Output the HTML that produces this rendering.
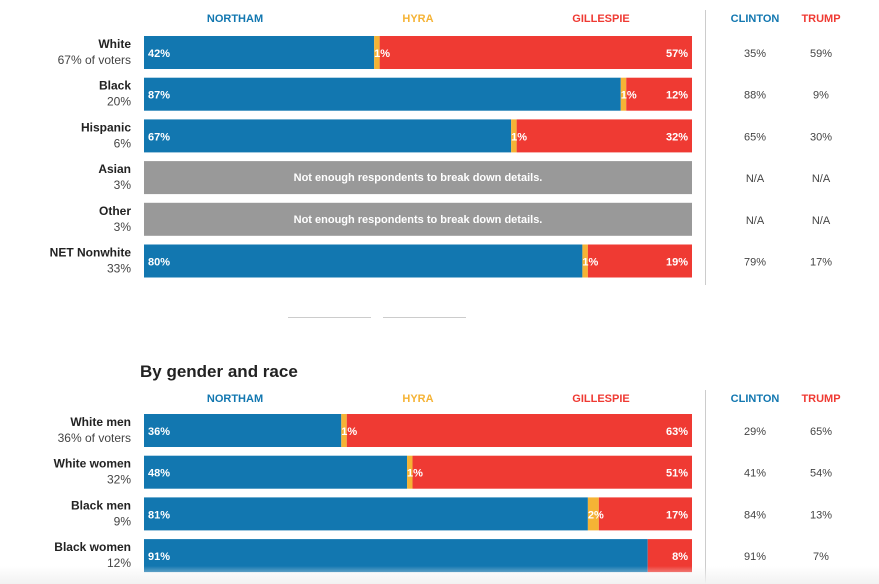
<!DOCTYPE html>
<html><head><meta charset="utf-8">
<style>
body{margin:0;width:879px;height:584px;background:#fff;font-family:"Liberation Sans",sans-serif;overflow:hidden;position:relative}
svg{position:absolute;left:0;top:0}
.fade{position:absolute;left:0;top:566px;width:879px;height:18px;background:linear-gradient(#fff0,#f2f2f2);pointer-events:none}
</style></head><body>
<svg id="chart" width="879" height="584"></svg>
<div class="fade"></div>
<script>
const cats1=["White","Black","Hispanic","Asian","Other","NET Nonwhite"];
const subs1=["67% of voters","20%","6%","3%","3%","33%"];
const northam1=[42,87,67,null,null,80];
const hyra1=[1,1,1,null,null,1];
const gill1=[57,12,32,null,null,19];
const clinton1=["35%","88%","65%","N/A","N/A","79%"];
const trump1=["59%","9%","30%","N/A","N/A","17%"];
const cats2=["White men","White women","Black men","Black women"];
const subs2=["36% of voters","32%","9%","12%"];
const northam2=[36,48,81,91];
const hyra2=[1,1,2,0];
const gill2=[63,51,17,8];
const clinton2=["29%","41%","84%","91%"];
const trump2=["65%","54%","13%","7%"];

const svg=document.getElementById('chart');
const NS="http://www.w3.org/2000/svg";
const X0=144,W=548,BH=33;
const BLUE="#1277b0",YEL="#f5b335",RED="#ef3a33";
function el(t,a,txt){const e=document.createElementNS(NS,t);for(const k in a)e.setAttribute(k,a[k]);if(txt!=null)e.textContent=txt;svg.appendChild(e);return e;}
const xs=(v,tot)=>v/tot*W;

function headers(y){
  let t=el('text',{x:235,y:y,'text-anchor':'middle','font-size':11,'font-weight':'bold',fill:BLUE},'NORTHAM');
  
  t=el('text',{x:418,y:y,'text-anchor':'middle','font-size':11,'font-weight':'bold',fill:YEL},'HYRA');
  
  t=el('text',{x:601,y:y,'text-anchor':'middle','font-size':11,'font-weight':'bold',fill:RED},'GILLESPIE');
  
  t=el('text',{x:755,y:y,'text-anchor':'middle','font-size':11,'font-weight':'bold',fill:BLUE},'CLINTON');
  
  t=el('text',{x:821,y:y,'text-anchor':'middle','font-size':11,'font-weight':'bold',fill:RED},'TRUMP');
  
}
function rows(y0,cats,subs,n,h,g,c,tr){
  cats.forEach((cat,i)=>{
    const y=y0+i*41.7;
    let t=el('text',{x:131,y:y+12,'text-anchor':'end','font-size':12,'font-weight':'bold',fill:'#222'},cat);
    
    t=el('text',{x:131,y:y+28,'text-anchor':'end','font-size':12,fill:'#444'},subs[i]);
    
    if(n[i]==null){
      let r=el('rect',{x:X0,y:y,width:W,height:BH,fill:'#999'});
      
      t=el('text',{x:X0+W/2,y:y+20,'text-anchor':'middle','font-size':11,'font-weight':'bold',fill:'#fff'},'Not enough respondents to break down details.');
      
    } else {
      const tot=n[i]+h[i]+g[i];
      const wb=xs(n[i],tot),wh=xs(h[i],tot),wr=xs(g[i],tot);
      let r=el('rect',{x:X0,y:y,width:wb,height:BH,fill:BLUE});
      
      r=el('rect',{x:X0+wb,y:y,width:wh,height:BH,fill:YEL});
      
      r=el('rect',{x:X0+W-wr,y:y,width:wr,height:BH,fill:RED});
      
      t=el('text',{x:X0+4,y:y+21,'font-size':11,'font-weight':'bold',fill:'#fff'},n[i]+'%');
      
      if(h[i]>0){t=el('text',{x:X0+wb,y:y+21,'font-size':11,'font-weight':'bold',fill:'#fff'},h[i]+'%');
      }
      t=el('text',{x:X0+W-4,y:y+21,'text-anchor':'end','font-size':11,'font-weight':'bold',fill:'#fff'},g[i]+'%');
      
    }
    t=el('text',{x:755,y:y+21,'text-anchor':'middle','font-size':11,fill:'#444'},c[i]);
    
    t=el('text',{x:821,y:y+21,'text-anchor':'middle','font-size':11,fill:'#444'},tr[i]);
    
  });
}
headers(22);
let d=el('line',{x1:705.5,y1:10,x2:705.5,y2:285,stroke:'#ccc'});

rows(36,cats1,subs1,northam1,hyra1,gill1,clinton1,trump1);
d=el('line',{x1:288,y1:317.5,x2:371,y2:317.5,stroke:'#ccc'});

d=el('line',{x1:383,y1:317.5,x2:466,y2:317.5,stroke:'#ccc'});

let h=el('text',{x:140,y:377,'font-size':17,'font-weight':'bold',fill:'#222'},'By gender and race');

headers(402);
d=el('line',{x1:705.5,y1:390,x2:705.5,y2:584,stroke:'#ccc'});

rows(414,cats2,subs2,northam2,hyra2,gill2,clinton2,trump2);
</script>
</body></html>
